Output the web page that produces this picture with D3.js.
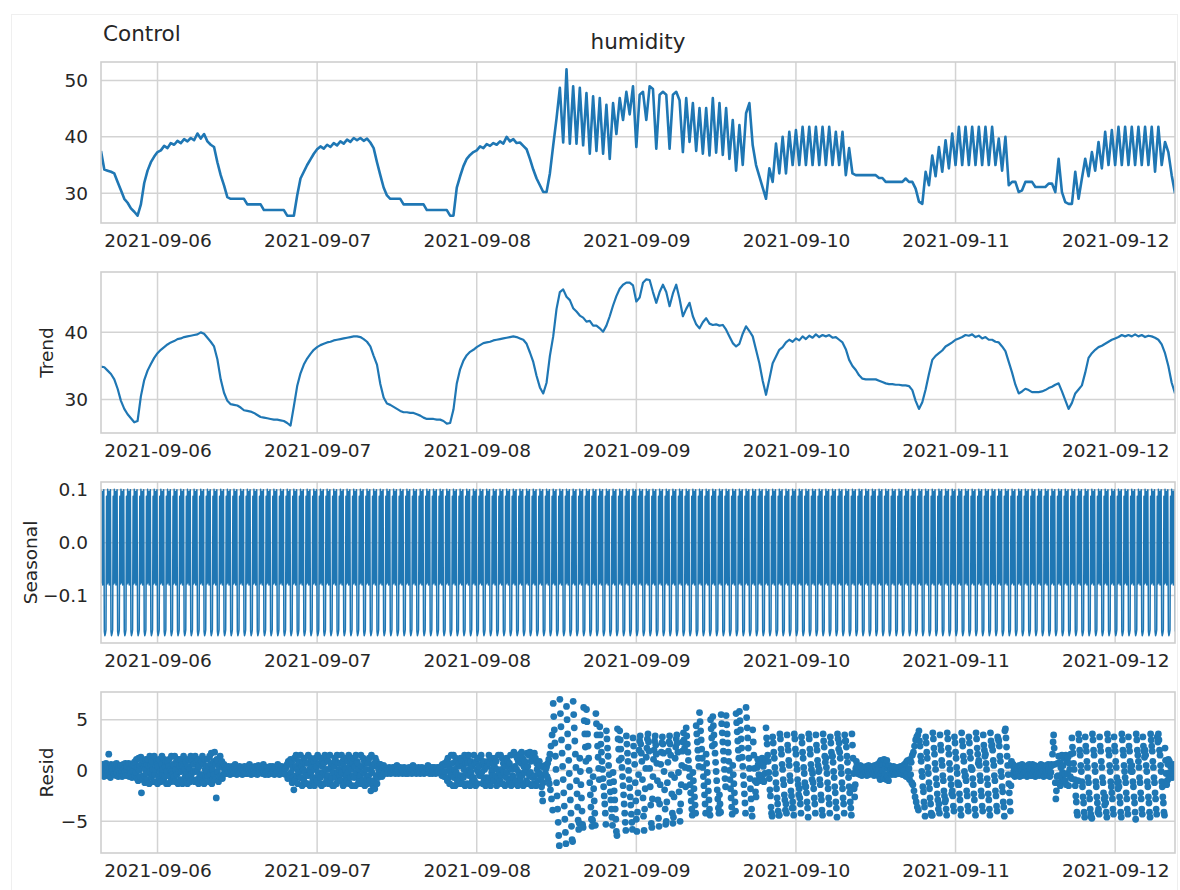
<!DOCTYPE html>
<html>
<head>
<meta charset="utf-8">
<script src="https://cdn.jsdelivr.net/npm/d3@7"></script>
<style>
  body { margin: 0; background: #ffffff; }
  svg text { font-family: "DejaVu Sans", sans-serif; fill: #262626; }
</style>
</head>
<body>
<svg id="chart" width="1180" height="890"></svg>
<script>
// Seasonal decomposition of the "humidity" series for the Control room.
const startTime = "2021-09-05 15:30";
const dayTicks = ["2021-09-06", "2021-09-07", "2021-09-08", "2021-09-09", "2021-09-10", "2021-09-11", "2021-09-12"];

// Observed humidity, one reading per 30 minutes
const observed = [
  37.5, 34.2, 34.0, 33.8, 33.5, 32.0, 30.5, 29.0, 28.3, 27.3, 26.7, 26.0,
  28.0, 31.8, 34.0, 35.5, 36.5, 37.3, 37.6, 38.4, 38.0, 38.9, 38.6, 39.3,
  38.9, 39.6, 39.2, 39.8, 39.4, 40.6, 39.7, 40.5, 39.2, 38.6, 38.2, 35.5,
  33.2, 31.4, 29.3, 29.0, 29.0, 29.0, 29.0, 29.0, 28.0, 28.0, 28.0, 28.0,
  28.0, 27.0, 27.0, 27.0, 27.0, 27.0, 27.0, 27.0, 26.0, 26.0, 26.0, 29.6,
  32.6, 33.8, 35.0, 36.0, 37.0, 37.8, 38.3, 37.9, 38.6, 38.2, 38.9, 38.5,
  39.2, 38.8, 39.5, 39.1, 39.8, 39.4, 39.8, 39.3, 39.7, 39.0, 38.0, 35.5,
  33.2, 31.0, 29.6, 29.0, 29.0, 29.0, 29.0, 28.0, 28.0, 28.0, 28.0, 28.0,
  28.0, 28.0, 27.0, 27.0, 27.0, 27.0, 27.0, 27.0, 27.0, 26.0, 26.0, 31.0,
  33.0, 34.8, 36.1, 36.8, 37.3, 37.6, 38.3, 38.0, 38.7, 38.4, 38.9, 38.6,
  39.2, 38.8, 40.0, 39.2, 39.6, 38.9, 39.0, 38.4, 37.8, 36.1, 34.2, 32.6,
  31.4, 30.2, 30.2, 33.5, 38.5, 43.3, 48.7, 39.0, 52.0, 38.8, 49.0, 38.8,
  48.7, 38.5, 47.8, 37.0, 47.2, 37.5, 46.9, 37.0, 45.7, 36.1, 46.0, 40.5,
  46.9, 43.0, 48.0, 44.0, 49.0, 38.2, 47.5, 48.0, 43.0, 49.0, 48.5, 37.9,
  47.5, 48.0, 47.5, 37.9, 47.5, 48.0, 46.5, 37.3, 46.9, 39.1, 46.0, 37.5,
  45.1, 37.0, 45.1, 36.7, 46.9, 37.2, 46.0, 36.8, 45.1, 36.1, 43.0, 34.0,
  42.1, 35.0, 44.2, 46.0, 38.5, 35.0, 33.0, 31.0, 29.0, 34.4, 32.0, 38.8,
  33.5, 40.0, 33.5, 40.9, 35.0, 41.2, 35.0, 41.8, 35.0, 41.8, 35.0, 41.8,
  35.0, 41.8, 35.0, 41.8, 35.0, 40.9, 35.0, 40.9, 33.2, 38.0, 33.5, 33.2,
  33.2, 33.2, 33.2, 33.2, 33.2, 33.2, 32.7, 32.7, 32.0, 32.0, 32.0, 32.0,
  32.0, 32.0, 32.6, 32.0, 32.0, 30.8, 28.5, 28.1, 33.8, 31.4, 36.7, 33.0,
  38.2, 33.8, 39.4, 34.4, 40.6, 35.0, 41.8, 35.0, 41.8, 35.0, 41.8, 35.0,
  41.8, 35.0, 41.8, 35.0, 41.8, 35.0, 39.7, 34.0, 40.0, 31.4, 32.0, 32.0,
  30.2, 30.5, 32.0, 32.0, 32.0, 31.1, 31.1, 31.1, 31.1, 31.7, 31.7, 30.2,
  36.1, 30.2, 28.4, 28.1, 28.1, 33.8, 29.0, 32.6, 36.1, 33.0, 37.3, 34.0,
  39.1, 34.4, 40.9, 35.0, 41.2, 35.0, 41.8, 35.0, 41.8, 35.0, 41.8, 35.0,
  41.8, 35.0, 41.8, 35.0, 41.8, 33.8, 41.8, 35.0, 39.1, 37.3, 33.2, 30.0
];

// Trend component, same 30-minute index
const trend = [
  34.9, 34.8, 34.3, 33.8, 33.0, 31.6, 29.8, 28.6, 27.8, 27.2, 26.6, 26.8,
  30.5, 32.9, 34.3, 35.3, 36.2, 36.9, 37.4, 37.8, 38.2, 38.5, 38.7, 39.0,
  39.1, 39.3, 39.4, 39.5, 39.6, 39.7, 40.0, 39.8, 39.2, 38.6, 37.9, 36.0,
  33.0, 31.0, 29.8, 29.3, 29.2, 29.1, 28.8, 28.4, 28.3, 28.2, 28.0, 27.7,
  27.4, 27.3, 27.2, 27.1, 27.0, 27.0, 26.9, 26.8, 26.5, 26.1, 29.0, 32.0,
  33.9, 35.2, 36.1, 36.8, 37.4, 37.8, 38.1, 38.3, 38.5, 38.6, 38.8, 38.9,
  39.0, 39.1, 39.2, 39.3, 39.4, 39.4, 39.3, 39.0, 38.6, 37.9, 36.5, 35.2,
  32.3, 30.3, 29.4, 29.2, 28.9, 28.6, 28.3, 28.1, 28.1, 28.0, 28.0, 27.8,
  27.6, 27.3, 27.1, 27.1, 27.1, 27.0, 27.0, 26.8, 26.4, 26.5, 28.5, 32.4,
  34.5, 35.8, 36.6, 37.1, 37.4, 37.8, 38.1, 38.4, 38.5, 38.6, 38.8, 38.9,
  39.0, 39.1, 39.2, 39.3, 39.4, 39.3, 39.1, 38.9, 38.3, 37.0, 35.6, 33.5,
  31.8, 30.9, 32.5, 36.5, 39.4, 43.5, 46.0, 46.4, 45.3, 44.8, 43.6, 43.1,
  42.5, 42.2, 41.6, 41.7, 41.0, 41.0, 40.6, 40.1, 41.0, 42.4, 44.0, 45.4,
  46.5, 47.1, 47.4, 47.4, 47.0, 44.6, 45.2, 47.4, 47.9, 47.8, 46.0, 44.4,
  46.0, 47.1, 46.0, 43.9, 45.8, 47.1, 45.0, 42.4, 43.5, 44.4, 42.4, 41.2,
  40.6, 41.5, 42.1, 41.3, 41.1, 41.2, 41.0, 41.1, 40.4, 39.4, 38.4, 37.9,
  38.3, 39.8, 40.9, 40.2, 39.4, 37.4, 35.4, 32.8, 30.7, 33.0, 35.4, 36.4,
  37.4, 37.8, 38.5, 38.9, 38.6, 39.1, 38.8, 39.4, 39.0, 39.5, 39.2, 39.7,
  39.3, 39.6, 39.4, 39.6, 39.2, 39.3, 38.9, 38.5, 37.5, 35.9, 35.0, 34.4,
  33.6, 33.1, 33.0, 33.0, 33.0, 33.0, 32.8, 32.6, 32.4, 32.3, 32.3, 32.2,
  32.2, 32.1, 32.1, 32.0, 31.4, 29.8, 28.6, 29.6, 31.5, 33.8, 35.9, 36.5,
  36.9, 37.3, 37.9, 38.2, 38.5, 38.9, 39.1, 39.3, 39.6, 39.5, 39.7, 39.3,
  39.5, 39.1, 39.3, 38.9, 38.9, 38.6, 38.5, 37.9, 37.2, 35.6, 34.0, 32.2,
  30.9, 31.2, 31.6, 31.4, 31.1, 31.1, 31.1, 31.2, 31.4, 31.7, 31.9, 32.2,
  32.4, 31.2, 29.9, 28.6, 29.5, 30.9, 31.5, 32.1, 34.0, 36.2, 36.9, 37.4,
  37.8, 38.0, 38.3, 38.6, 38.9, 39.1, 39.3, 39.6, 39.4, 39.6, 39.4, 39.7,
  39.4, 39.6, 39.3, 39.5, 39.4, 39.2, 38.9, 38.2, 36.9, 35.0, 32.5, 30.9
];

// One hourly cycle of the seasonal component, one value per 5 minutes
const seasonalCycle = [0.101, -0.076, 0.097, -0.080, 0.094, 0.100, -0.168, -0.176, -0.172, -0.165, 0.088, -0.078];

// Residuals, one value per 5 minutes (one row per hour)
const resid = [
  .3,-.1,.6,-.4,.1,-.6,.5,.2,-.3,.7,-.5,0,
  .4,-.2,1.6,-.5,.2,-.7,.6,-.1,.3,0,.5,-.3,
  -.4,.6,.2,-.5,.7,-.2,.1,-.6,.4,0,-.3,.5,
  .5,-.2,-.6,.3,.6,-.4,.2,-.1,.7,-.5,.1,.4,
  -.5,.4,.7,-.6,.2,0,-.3,.6,-.7,.3,-.1,.5,
  .8,-.5,.9,-.2,1.1,-.8,.3,-1,1.2,0,.5,-.6,
  1.3,-2.2,.7,-.9,1,-.5,.4,-1.2,.1,1.1,-.3,.6,
  -.9,1.1,.4,-1.3,1.4,-.1,.6,-.6,.9,-.4,.1,-1.1,
  1.4,-.4,.1,-1.1,.9,.6,-1.3,.4,-.6,1.1,-.9,-.1,
  -1.1,.6,1.4,-.4,.1,-.9,1.1,-.6,.4,.9,-1.3,-.1,
  .9,-1.3,.4,1.1,-.6,.1,-1.1,1.4,-.1,-.4,.6,-.9,
  -.6,1.4,-1.1,.1,.9,-.4,.6,-1.3,1.1,-.1,.4,-.9,
  1.1,-.1,.6,-1.3,.4,1.4,-.9,.1,-.6,.9,-1.1,-.4,
  -1.3,.4,1.1,-.6,.1,-1.1,1.4,-.4,.9,-.9,.6,-.1,
  .6,-1.1,1.4,-.1,.9,-.9,.1,1.1,-1.3,.4,-.6,-.4,
  -.9,.9,-.4,1.4,-1.1,.6,-1.3,1.1,.1,-.6,.4,-.1,
  1.1,-.6,.4,-1.1,1.4,-.4,.6,1.7,-1.3,.1,-.9,.9,
  -.4,1.8,-.9,.6,-2.7,1.1,-.1,.9,-1.1,.4,-.6,1.4,
  .7,-.5,.9,-.8,.3,-.4,.6,-.2,.4,-.1,.2,-.3,
  .2,-.3,.4,-.1,.3,-.4,.1,0,-.2,.4,-.3,.1,
  -.2,.3,.6,-.3,.1,-.4,.2,-.1,0,-.3,.4,-.2,
  .3,-.1,.2,-.4,0,.1,-.3,.4,-.2,.1,-.3,.2,
  -.3,.4,-.2,.1,.6,-.3,.2,-.4,0,-.1,.3,-.2,
  .1,-.3,.4,-.2,.3,0,-.4,.2,.5,-.1,.1,-.2,
  .4,-.2,.1,-.3,.2,.6,-.1,.3,-.4,0,-.1,.3,
  -.1,.3,-.4,.2,0,.4,.1,-.3,.3,-.2,.4,-.1,
  .2,-.4,.3,.1,-.3,0,-.1,.6,-.2,.3,-.4,.1,
  -.3,.2,.4,-.2,.1,-.3,.3,0,.2,-.4,.3,.5,
  .6,-.8,.9,-.4,.7,-.5,1.1,-.2,.8,-1.2,.3,-.7,
  -1.9,1.2,-1,.4,1.5,-.5,.1,-1.3,.9,-.2,.7,-.7,
  1.5,-.7,.4,-1.5,.9,.1,-1,1.2,-.2,.7,-1.3,-.5,
  -1.3,.7,1.5,-.5,.1,-1.5,1.2,-.2,.4,.9,-1,-.7,
  .9,-1.5,.1,1.2,-.7,.4,-1,1.5,-.2,-.5,.7,-1.3,
  -.7,1.2,-1.5,.4,.9,-.2,.7,-1.3,1.5,-.5,.1,-1,
  1.2,-.5,.9,-1.3,.1,1.5,-1,.4,-.7,.7,-1.5,-.2,
  -1.5,.4,1.2,-.7,.9,-1.3,1.5,-.2,.7,-1,.1,-.5,
  .7,-1,1.5,-.2,.9,-1.5,.4,1.2,-1.3,.1,-.7,-.5,
  -1,.9,-.2,1.5,-1.3,.4,-.7,1.2,.1,-1.5,.7,-.5,
  1.2,-.7,.4,-1.5,1.5,-.2,.9,.7,-1.3,.1,-1,-.5,
  -.5,1.5,-1.3,.4,-1,1.2,-.2,.9,-1.5,.7,.1,-.7,
  .9,-1.3,.7,-.5,1.2,-1,.1,-2,1.5,-.2,.4,-1.5,
  -1,.7,-1.8,1.2,-.5,.9,-1.3,.4,-.7,.1,-.2,.6,
  .6,-.5,.4,-.6,.3,-.4,.5,-.3,.2,-.1,.1,-.2,
  .2,-.3,.1,-.2,.3,0,.2,-.3,-.1,.2,-.2,.3,
  -.2,.1,.3,-.3,.2,-.1,.5,0,.1,-.3,.2,-.1,
  .3,-.2,.1,.2,-.3,0,-.2,.3,-.1,.2,-.3,.1,
  -.1,.2,-.3,.1,.3,-.2,0,-.1,.2,-.3,.1,.5,
  .1,-.2,.3,-.1,.2,-.3,.2,0,-.2,.3,-.1,-.2,
  -.3,.2,-.1,.3,-.2,.1,.2,-.3,0,-.1,.2,-.2,
  .2,-.1,.5,-.2,.1,-.3,.2,-.2,0,.3,-.3,.1,
  -.2,.3,-.1,.2,-.3,.2,0,.3,-.2,.1,-.1,.2,
  .3,-.3,.4,-.5,.6,-.2,.5,-.6,.7,-.1,.6,-.7,
  .9,-1,1.2,-.7,.4,-1.3,.1,-.2,1.5,-.5,.7,-1.5,
  1.5,-.7,.1,-1.5,1.2,-.2,.9,-1,.4,-.5,.7,-1.3,
  -1,1.2,-.5,.9,-1.3,.4,-.7,.1,1.5,-1.5,.7,-.2,
  1.2,-1.3,.7,1.5,-.5,.1,-1.5,.9,-.2,.4,-1,-.7,
  -.7,1.5,-1,.7,-1.5,.9,.1,-1.3,1.2,-.2,.4,-.5,
  1.2,-.5,1.5,-.2,.7,-1.3,.9,-1,.1,.4,-1.5,-.7,
  -1.3,.4,.9,-1,1.5,-.7,.7,-1.5,1.2,-.2,.1,-.5,
  .7,-1,.4,1.2,-.5,.9,-1.5,.1,-.7,1.5,-1.3,-.2,
  -1,1.5,-.5,.1,1.2,-1.3,.7,-.2,.9,-1.5,.4,-.7,
  1.2,-.2,.9,-1.3,.4,.7,-1,1.5,-1.5,.1,-.7,-.5,
  -.7,1.8,-1.3,.4,1.5,-1,.1,1.2,-1.5,.9,-.2,-.5,
  1.6,-1,.7,1.8,-.5,1.2,-1.5,.4,-.2,.9,-1.3,.1,
  -1,1.7,.4,-1.3,1.5,-.5,1.8,-.2,.9,-1.5,1.2,-.7,
  1.5,-1.3,1.7,-.5,1.2,-1.5,.7,.1,-1,.4,-.2,.9,
  .5,-.4,-.8,-1.6,-2.3,-3,-1.2,.3,-.4,.5,-.3,.2,
  .4,-.6,.7,-.9,1.1,-1.3,1.6,-1.9,2.4,-2.8,3.5,-3.9,
  6.6,5.3,4,2.7,1.4,.1,-1.2,-2.5,-3.8,-5.1,-6.4,-7.4,
  7,5.6,4.3,3,1.7,.4,-.9,-2.2,-3.5,-4.8,-6.1,-7.2,
  6.3,5,3.6,2.3,1,-.3,-1.6,-2.9,-4.2,-5.5,-6.8,-7,
  6.8,5.5,4.2,2.9,1.6,.3,-1,-2.3,-3.6,-4.9,-5.8,-5.2,
  1.2,-.1,-1.4,-2.7,-4,-5.3,-5.6,6.2,4.9,3.6,2.3,.9,
  6,4.8,3.6,2.4,1.2,0,-1.2,-2.4,-3.6,-4.8,-5.5,-4.9,
  -.6,-1.8,-3,-4.2,-5.4,5.6,4.6,3.5,2.4,1.3,.2,-.9,
  4.3,3.5,2.6,1.8,.9,.1,-.8,-1.6,-2.5,-3.3,-4.2,-5.3,
  3.9,3.1,2.2,1.4,.5,-.4,-1.2,-2.1,-2.9,-3.8,-4.6,-5.4,
  -.2,-1.1,-2,-2.9,-3.8,-4.8,-6,-6.4,4.1,3.1,2.1,1,
  3.9,3,2.1,1.2,.3,-.6,-1.5,-2.4,-3.3,-4.2,-5.1,-5.9,
  3.4,2.6,1.7,.9,0,-.9,-1.7,-2.6,-3.4,-4.3,-5.1,-5.8,
  3.2,2.4,1.5,.6,-1.2,-3,-4.8,-6,-4.1,-2.2,-.4,2,
  2.9,3.4,2.6,1.7,.9,-.9,-2.7,-4.5,-5.9,-3.8,-1.8,.2,
  1.3,2.2,3.1,3.6,2.8,1.9,.2,-1.6,-3.4,-5.2,-5.6,-2.8,
  -.6,1.1,2,2.9,3.4,2.5,1.6,.7,-1,-2.9,-4.7,-5.5,
  -3.3,-1.4,.6,1.8,2.7,3.3,2.6,1.7,-.1,-1.9,-3.8,-5.3,
  -5,-3.1,-1.2,.8,1.9,2.8,3.4,2.6,1.5,-.4,-2.3,-4.2,
  -5.2,-4.6,-2.6,-.7,1.2,2.3,3.1,3.5,2.7,1.8,-.2,-2.1,
  -4,-5,-3.3,-1.4,.5,1.9,2.8,3.7,3,2.2,.3,-1.6,
  4.2,3.4,2.6,1.8,1,.2,-.6,-1.4,-2.2,-3,-3.8,-4.4,
  -.2,-1,-1.8,-2.6,-3.4,-4.2,4.4,3.6,2.8,2,1.2,.4,
  5.7,4.8,3.9,3,2.1,1.2,.3,-.6,-1.5,-2.4,-3.3,-4.2,
  1.6,.7,-.2,-1.1,-2,-2.9,-3.8,-4.4,5,4.1,3.2,2.4,
  5.3,4.4,3.5,2.6,1.7,.8,-.1,-1,-1.9,-2.8,-3.7,-4.2,
  -2.4,-3.3,-4.1,5.5,4.6,3.7,2.8,1.9,1,.1,-.8,-1.6,
  5.4,4.5,3.6,2.7,1.8,.9,0,-.9,-1.8,-2.7,-3.6,-4.3,
  .5,-.4,-1.3,-2.2,-3.1,-4,5.6,4.7,3.8,2.9,2,1.2,
  5.8,4.9,4,3.1,2.2,1.3,.4,-.5,-1.4,-2.3,-3.2,-4.2,
  6.2,5.2,4.2,3.2,2.2,1.2,.2,-.8,-1.8,-2.8,-3.8,-4.5,
  4,2.8,1.5,.2,-1,-2.1,-2.6,-1.2,.3,1.1,.6,-.4,
  -.8,.9,-1,.7,-.5,1.2,-.9,.4,-1.1,.8,-.3,1,
  4.2,3.2,2.6,1.5,.9,-.2,-.8,-1.9,-2.5,-3.6,-4.2,-4.5,
  3.3,2.7,1.8,1.2,.3,-.3,-1.2,-1.8,-2.7,-3.3,-4,-4.4,
  -4.4,3.6,3.1,2.1,1.6,.6,.1,-.9,-1.4,-2.4,-2.9,-3.9,
  -3.3,-4.2,3.5,2.5,2,1,.5,-.5,-1,-2,-2.5,-3.7,
  -3.1,-3.7,-4.4,3.6,3.1,2.1,1.6,.6,.1,-.9,-1.4,-2.4,
  -1.8,-2.7,-3.3,-4.2,3.3,2.7,1.8,1.2,.3,-.3,-1.2,-1.6,
  -1.6,-2.2,-3.1,-3.7,-4.6,3.6,3.1,2.1,1.6,.6,.1,-.9,
  -.3,-1.2,-1.8,-2.7,-3.3,-4.2,3.5,2.5,2,1,.5,-.1,
  .1,-.9,-1.4,-2.4,-2.9,-3.9,-4.4,3.6,2.9,2.3,1.4,.8,
  1.2,.3,-.3,-1.2,-1.8,-2.7,-3.3,-4.2,3.3,2.7,1.8,1.4,
  1.4,.8,-.1,-.7,-1.6,-2.2,-3.1,-3.7,-4.6,3.6,3.1,2.1,
  2.7,1.8,1.2,.3,-.3,-1.2,-1.8,-2.7,-3.3,-4.2,3.5,2.9,
  2.9,2.3,1.4,.8,-.1,-.7,-1.6,-2.2,-3.1,-3.7,-4.4,3.6,
  2.5,1.2,-.3,-1.8,-2.6,-1.4,.2,.9,.5,-.3,.4,-.2,
  .3,-.4,.5,-.2,.4,-.5,.2,0,.1,-.3,-.1,.3,
  -.2,.4,-.5,.3,-.1,.5,-.4,.2,0,.1,-.3,.1,
  .4,-.3,.2,-.5,.5,-.1,.3,-.4,0,.6,-.2,.1,
  -.6,.8,-.9,1,-.3,.5,0,.6,-.8,1.1,-.4,.2,
  .7,-.9,1,-.6,.3,-1,.5,-.2,.4,0,.2,-.4,
  .2,-.3,.4,-.1,.3,-.4,.1,-.2,0,.3,-.3,.2,
  -.3,.2,-.1,.4,-.2,.3,-.4,.1,.5,0,.6,-.5,
  .7,-.6,.9,-.3,1,-.7,.2,-.9,1.1,-.4,.8,-1.2,
  1.5,-1.4,1.8,-2,2.4,-2.6,3,-3.1,3.3,-3.6,3.5,-3.9,
  3.9,2.9,2.4,1.4,.9,-.1,-.6,-1.6,-2.1,-3.1,-3.6,-4.5,
  3.3,2.7,1.8,1.2,.3,-.3,-1.2,-1.8,-2.7,-3.3,-4.2,-4.4,
  -4.4,3.7,3.1,2.2,1.6,.7,.1,-.8,-1.4,-2.3,-2.9,-3.8,
  -3.3,-4.2,3.5,2.5,2,1,.5,-.5,-1,-2,-2.5,-3.1,
  -2.9,-3.8,-4.4,3.7,3.1,2.2,1.6,.7,.1,-.8,-1.4,-2.3,
  -2,-2.5,-3.5,-4,3.3,2.7,1.8,1.2,.3,-.3,-1.2,-1.4,
  -1.4,-2.3,-2.9,-3.8,-4.4,3.7,2.9,2.4,1.4,.9,-.1,-.6,
  -.5,-1,-2,-2.5,-3.5,-4,3.3,2.7,1.8,1.2,.3,.1,
  .1,-.8,-1.4,-2.3,-2.9,-3.8,-4.4,3.7,3.1,2.2,1.6,.7,
  1,.5,-.5,-1,-2,-2.5,-3.5,-4,3.5,2.5,2,1.4,
  1.6,.7,.1,-.8,-1.4,-2.3,-2.9,-3.8,-4.4,3.7,2.9,2.4,
  2.5,2,1,.5,-.5,-1,-2,-2.5,-3.5,-4,3.3,3.1,
  2.9,2.4,1.4,.9,-.1,-.6,-1.6,-2.1,-3.1,-3.6,-4.5,3.9,
  4.1,3.2,2.3,1.4,.5,-.4,-1.3,-2.2,-3.1,-4,-1.5,.9,
  .5,-.4,.6,-.1,.3,-.6,.4,-.2,0,-.3,.2,-.5,
  -.3,.5,-.6,.2,.4,0,.6,-.5,.1,.3,-.2,.4,
  .4,-.2,.3,-.6,.5,-.1,-.4,.6,0,.2,-.5,.3,
  -.5,.6,-.2,.4,0,.5,-.6,.1,.4,-.4,.3,-.1,
  .2,-.5,.4,-.3,.6,-.2,.3,0,.5,-.6,.2,.4,
  -.4,.3,-.1,.5,-.5,.6,0,.2,-.6,.4,-.2,.6,
  .5,1.6,2.8,3.5,2.2,.6,-1.2,-2.8,-2,-.6,.7,-.5,
  1.4,-1.2,.8,-1.5,.3,-.7,1.5,-.2,.5,-1,1.2,-.4,
  -1,1.5,-1.4,.9,-.3,1.3,-1.5,.7,.1,-.6,1.6,-.8,
  3.2,2.3,1.7,.7,.1,-.9,-1.5,-2.5,-3.1,-4.1,-4.4,-1,
  3.6,3,2,1.5,.5,-.1,-1.1,-1.6,-2.6,-3.2,-4.1,-4.6,
  3.3,2.4,1.9,.9,.3,-.7,-1.2,-2.2,-2.8,-3.8,-4.3,-4.6,
  -4.7,3.6,3,2,1.5,.5,-.1,-1.1,-1.6,-2.6,-3.2,-4.1,
  -3.8,-4.3,3.3,2.4,1.9,.9,.3,-.7,-1.2,-2.2,-2.8,-3.4,
  -2.6,-3.2,-4.1,-4.6,3.6,3,2,1.5,.5,-.1,-1.1,-1.6,
  -2.2,-2.8,-3.8,-4.3,3.3,2.4,1.9,.9,.3,-.7,-1.2,-1.8,
  -1.1,-1.6,-2.6,-3.2,-4.1,-4.6,3.6,3,2,1.5,.5,-.1,
  -.7,-1.2,-2.2,-2.8,-3.8,-4.3,3.3,2.4,1.9,.9,.3,-.1,
  .5,-.1,-1.1,-1.6,-2.6,-3.2,-4.1,-4.8,3.6,3,2,1.5,
  .9,.3,-.7,-1.2,-2.2,-2.8,-3.8,-4.3,3.3,2.4,1.9,1.3,
  2,1.5,.5,-.1,-1.1,-1.6,-2.6,-3.2,-4.1,-4.6,3.6,3,
  2.4,1.9,.9,.3,-.7,-1.2,-2.2,-2.8,-3.8,-4.3,3.3,2.8,
  3.6,3,2,1.5,.5,-.1,-1.1,-1.6,-2.6,-3.2,-4.1,-4.4,
  2.2,1,-.3,-1.4,-1,.6,1.1,-.8,.9,-.2,.4,-.6,
  .5,-.7,.4,-.3,.6,0,.2
];

const observedTicks = [30, 40, 50];
const trendTicks = [30, 40];
const seasonalTicks = [-0.1, 0, 0.1];
const residTicks = [-5, 0, 5];

// ---- layout ----
const plotLeft = 101, plotRight = 1175;
const panelTops = [62, 272, 482, 692];
const panelH = 161;
const blue = "#1f77b4";
const gridColor = "#d3d3d3";
const tickFont = 18.5;

const svg = d3.select("#chart");

// faint outer edge of the figure canvas
svg.append("rect")
  .attr("x", 11.5).attr("y", 14.5).attr("width", 1166).attr("height", 880)
  .attr("fill", "none").attr("stroke", "#efefef").attr("stroke-width", 1);

const parseTime = d3.timeParse("%Y-%m-%d %H:%M");
const parseDay = d3.timeParse("%Y-%m-%d");
const t0 = parseTime(startTime);
const halfHourTimes = observed.map((_, i) => d3.timeMinute.offset(t0, i * 30));
const fiveMinTimes = resid.map((_, k) => d3.timeMinute.offset(t0, k * 5));
const seasonal = fiveMinTimes.map((_, k) => seasonalCycle[k % seasonalCycle.length]);
const dayTimes = dayTicks.map(parseDay);

const x = d3.scaleTime()
  .domain([halfHourTimes[0], halfHourTimes[halfHourTimes.length - 1]])
  .range([plotLeft, plotRight]);

// matplotlib-style autoscale: data extent plus 5% on each side
function paddedExtent(values) {
  const [lo, hi] = d3.extent(values);
  const pad = (hi - lo) * 0.05;
  return [lo - pad, hi + pad];
}

const panels = [
  { label: null, times: halfHourTimes, values: observed, ticks: observedTicks, fmt: d3.format("d"), kind: "line", width: 2.6, labelX: 0 },
  { label: "Trend", times: halfHourTimes, values: trend, ticks: trendTicks, fmt: d3.format("d"), kind: "line", width: 2.2, labelX: 47 },
  { label: "Seasonal", times: fiveMinTimes, values: seasonal, ticks: seasonalTicks, fmt: d3.format(".1f"), kind: "line", width: 1.5, labelX: 31 },
  { label: "Resid", times: fiveMinTimes, values: resid, ticks: residTicks, fmt: d3.format("d"), kind: "dots", labelX: 47 }
];

panels.forEach((p, idx) => {
  const top = panelTops[idx];
  const g = svg.append("g").attr("transform", `translate(0,${top})`);
  const y = d3.scaleLinear().domain(paddedExtent(p.values)).range([panelH, 0]);

  // grid
  g.append("g").selectAll("line").data(p.ticks).join("line")
    .attr("x1", plotLeft).attr("x2", plotRight)
    .attr("y1", d => y(d)).attr("y2", d => y(d))
    .attr("stroke", gridColor).attr("stroke-width", 1.5);
  g.append("g").selectAll("line").data(dayTimes).join("line")
    .attr("x1", d => x(d)).attr("x2", d => x(d))
    .attr("y1", 0).attr("y2", panelH)
    .attr("stroke", gridColor).attr("stroke-width", 1.5);

  const clipId = `clip-${idx}`;
  g.append("clipPath").attr("id", clipId)
    .append("rect").attr("x", plotLeft).attr("y", 0)
    .attr("width", plotRight - plotLeft).attr("height", panelH);

  const marks = g.append("g").attr("clip-path", `url(#${clipId})`);
  const pts = p.values.map((v, i) => [p.times[i], v]);
  if (p.kind === "line") {
    marks.append("path")
      .datum(pts)
      .attr("fill", "none")
      .attr("stroke", blue)
      .attr("stroke-width", p.width)
      .attr("stroke-linejoin", "round")
      .attr("d", d3.line().x(d => x(d[0])).y(d => y(d[1])));
  } else {
    marks.selectAll("circle").data(pts).join("circle")
      .attr("cx", d => x(d[0])).attr("cy", d => y(d[1]))
      .attr("r", 3.4).attr("fill", blue);
  }

  // frame
  g.append("rect")
    .attr("x", plotLeft).attr("y", 0)
    .attr("width", plotRight - plotLeft).attr("height", panelH)
    .attr("fill", "none").attr("stroke", "#cfcfcf").attr("stroke-width", 1.6);

  // axes
  const yAxis = g.append("g").attr("transform", `translate(${plotLeft},0)`)
    .call(d3.axisLeft(y).tickValues(p.ticks).tickFormat(p.fmt).tickSize(0).tickPadding(13));
  const xAxis = g.append("g").attr("transform", `translate(0,${panelH})`)
    .call(d3.axisBottom(x).tickValues(dayTimes).tickFormat(d3.timeFormat("%Y-%m-%d")).tickSize(0).tickPadding(11));
  [yAxis, xAxis].forEach(a => {
    a.attr("font-family", "DejaVu Sans").attr("font-size", tickFont);
    a.select(".domain").remove();
    a.selectAll("text").attr("fill", "#262626");
  });

  if (p.label) {
    g.append("text")
      .attr("transform", `translate(${p.labelX},${panelH / 2}) rotate(-90)`)
      .attr("text-anchor", "middle")
      .attr("dy", "0.35em")
      .attr("font-size", tickFont)
      .text(p.label);
  }
});

// titles
svg.append("text").attr("x", 103).attr("y", 41).attr("font-size", 21.5).text("Control");
svg.append("text").attr("x", (plotLeft + plotRight) / 2).attr("y", 49)
  .attr("text-anchor", "middle").attr("font-size", 21.5).text("humidity");
</script>
</body>
</html>
